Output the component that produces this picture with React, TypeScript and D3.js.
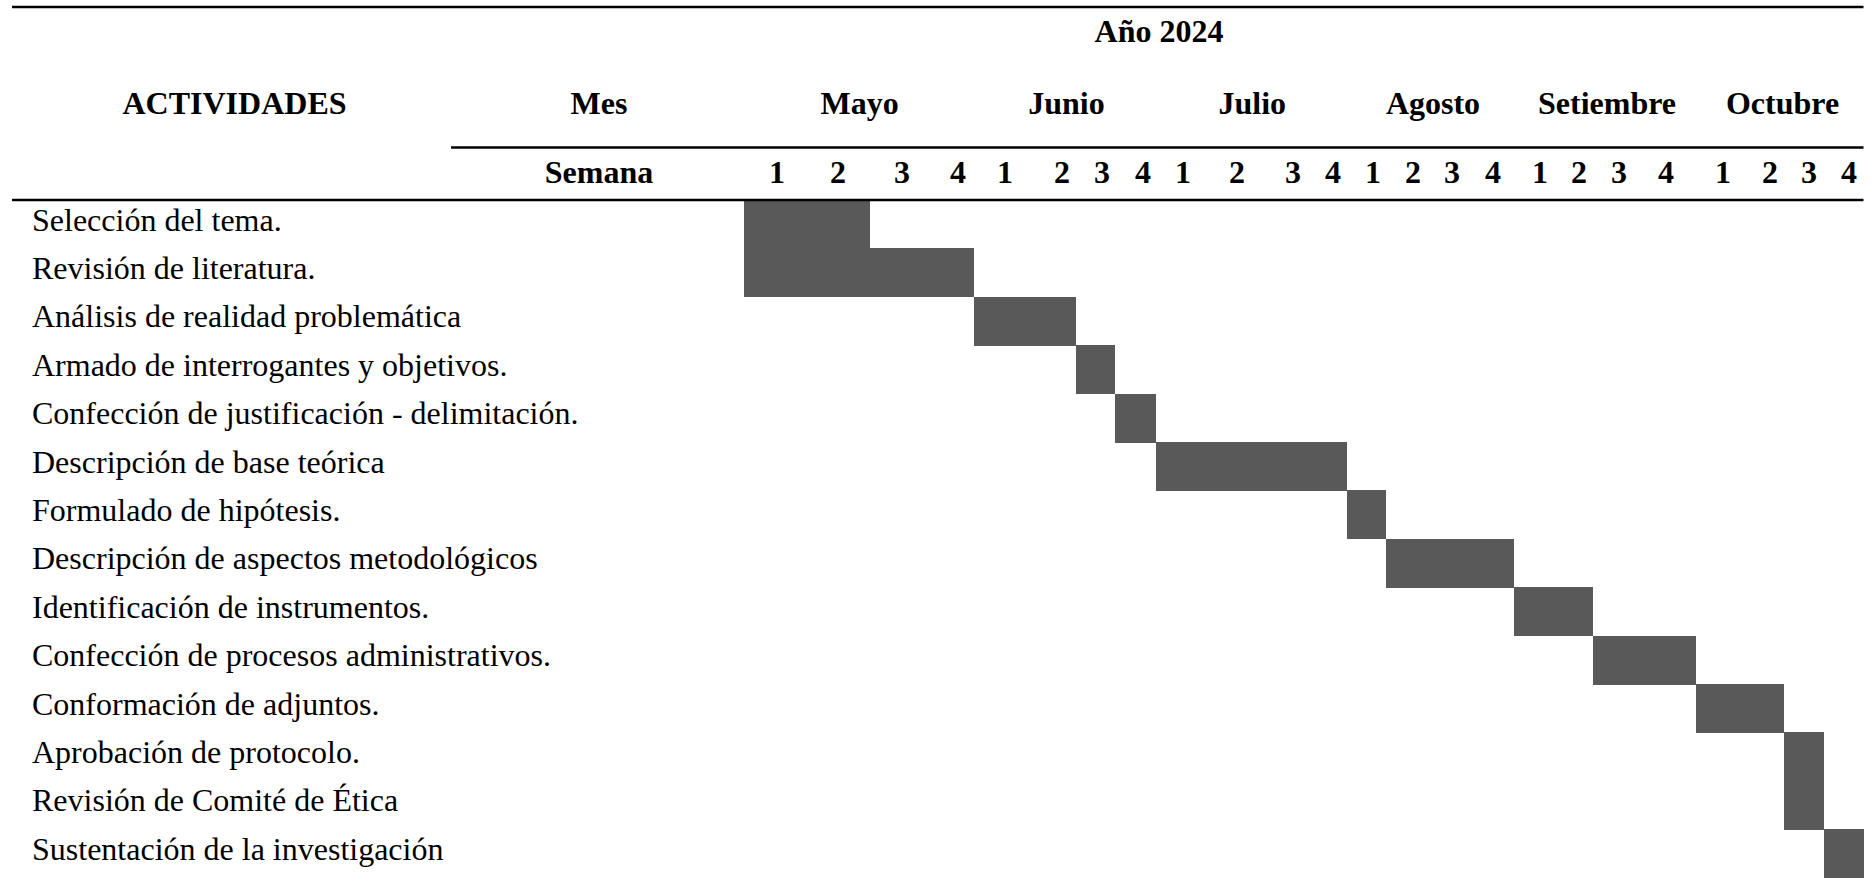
import React from "react";
import * as d3 from "d3";

// ---------- data ----------
const activities: string[] = [
  "Selección del tema.",
  "Revisión de literatura.",
  "Análisis de realidad problemática",
  "Armado de interrogantes y objetivos.",
  "Confección de justificación - delimitación.",
  "Descripción de base teórica",
  "Formulado de hipótesis.",
  "Descripción de aspectos metodológicos",
  "Identificación de instrumentos.",
  "Confección de procesos administrativos.",
  "Conformación de adjuntos.",
  "Aprobación de protocolo.",
  "Revisión de Comité de Ética",
  "Sustentación de la investigación",
];
// start week index (0 = Mayo semana 1) and end week index (exclusive)
const startWeek: number[] = [0, 0, 4, 6, 7, 8, 12, 13, 16, 18, 20, 22, 22, 23];
const endWeek: number[] = [2, 4, 6, 7, 8, 12, 13, 16, 18, 20, 22, 23, 23, 24];

const months: string[] = ["Mayo", "Junio", "Julio", "Agosto", "Setiembre", "Octubre"];
const weekLabels: string[] = ["1", "2", "3", "4"];
const yearLabel = "Año 2024";
const headActivities = "ACTIVIDADES";
const headMes = "Mes";
const headSemana = "Semana";

// ---------- layout ----------
const W = 1872;
const H = 878;
const FONT = "'Liberation Serif', 'Times New Roman', serif";
const FS = 32;
const BAR = "#595959";
// table column edges (weeks 0..24) in the body rows
const colEdges = [
  743.5, 807, 870, 922, 973.5, 1025, 1076, 1115, 1155.5, 1203.4, 1251.3, 1299.1, 1347,
  1386, 1428.5, 1471, 1513.5, 1553, 1592.5, 1644, 1696, 1740, 1783.5, 1823.5, 1863.5,
];
// header cell centers for week numbers and month names
const weekHeadX = [
  777, 838, 902, 958, 1005, 1062, 1102, 1143, 1183, 1237, 1293, 1333, 1373, 1413, 1452,
  1493, 1540, 1579, 1619, 1666, 1723, 1770, 1809, 1849,
];
const monthHeadX = [859.6, 1066.5, 1252.3, 1433, 1607, 1782.5];
const bodyTop = 200;
const rowH = 48.4;
const lineLeft = 12;
const lineRight = 1863.5;

export default function App() {
  const x = d3
    .scaleLinear()
    .domain(d3.range(0, 25))
    .range(colEdges);
  const y = d3
    .scaleBand<string>()
    .domain(activities)
    .range([bodyTop, bodyTop + rowH * activities.length])
    .padding(0);

  const weeks = months.flatMap(() => weekLabels);

  return (
    <svg
      width={W}
      height={H}
      style={{ position: "absolute", left: 0, top: 0, background: "#fff" }}
      fontFamily={FONT}
      fontSize={FS}
    >
      <rect x={0} y={0} width={W} height={H} fill="#fff" />
      {/* bars */}
      <g shapeRendering="crispEdges">
        {activities.map((a, i) => (
          <rect
            key={a}
            x={x(startWeek[i])}
            y={y(a)!}
            width={x(endWeek[i]) - x(startWeek[i])}
            height={y.bandwidth() + 0.5}
            fill={BAR}
          />
        ))}
      </g>
      {/* activity labels */}
      {activities.map((a) => (
        <text key={"t" + a} x={32} y={y(a)! + 30.5} fill="#000">
          {a}
        </text>
      ))}
      {/* header lines */}
      <line x1={lineLeft} x2={lineRight} y1={7} y2={7} stroke="#000" strokeWidth={2.4} />
      <line x1={451} x2={lineRight} y1={147.5} y2={147.5} stroke="#000" strokeWidth={2.4} />
      <line x1={lineLeft} x2={lineRight} y1={bodyTop} y2={bodyTop} stroke="#000" strokeWidth={2.4} />
      {/* header text */}
      <g fontWeight="bold" textAnchor="middle" fill="#000">
        <text x={1159} y={42}>{yearLabel}</text>
        <text x={234.5} y={113.5}>{headActivities}</text>
        <text x={599} y={113.5}>{headMes}</text>
        {months.map((m, i) => (
          <text key={m} x={monthHeadX[i]} y={113.5}>
            {m}
          </text>
        ))}
        <text x={599} y={183}>{headSemana}</text>
        {weeks.map((w, i) => (
          <text key={"w" + i} x={weekHeadX[i]} y={183}>
            {w}
          </text>
        ))}
      </g>
    </svg>
  );
}
